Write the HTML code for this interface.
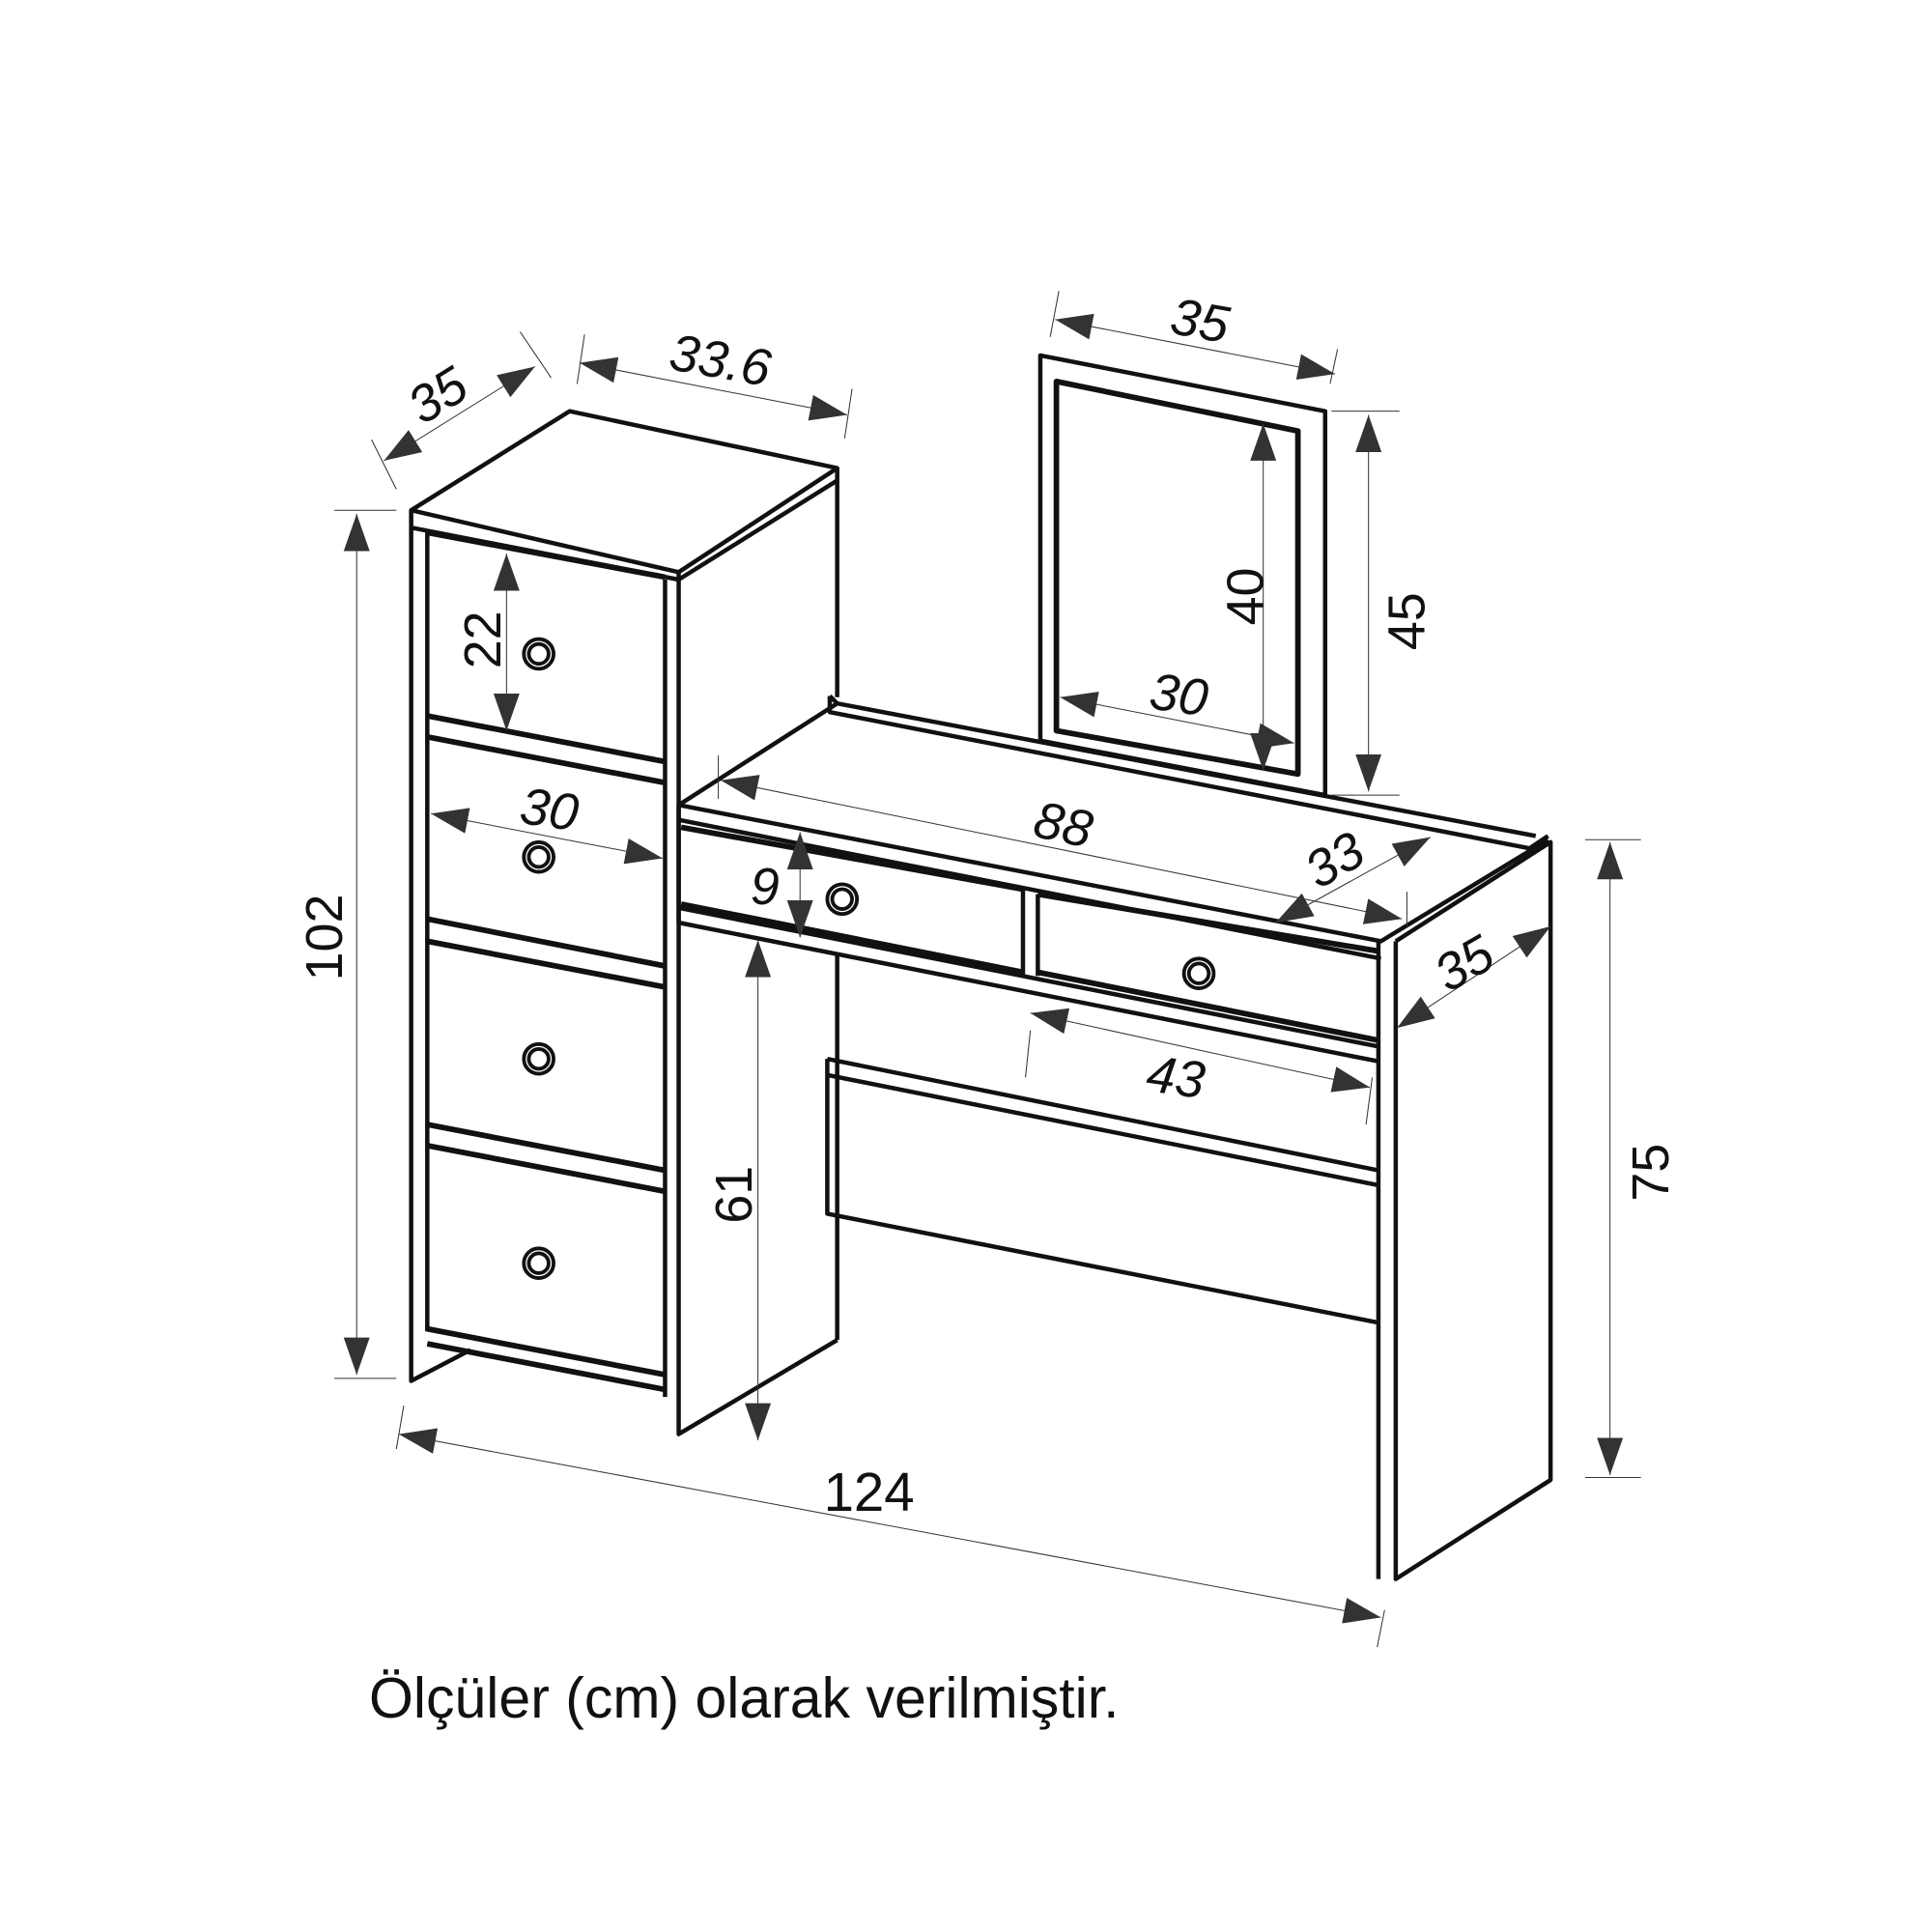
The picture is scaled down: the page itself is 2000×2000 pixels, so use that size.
<!DOCTYPE html>
<html><head><meta charset="utf-8"><style>
html,body{margin:0;padding:0;background:#fff}
svg{display:block}
text{font-family:"Liberation Sans",sans-serif;fill:#111}
</style></head><body>
<svg width="2000" height="2000" viewBox="0 0 1560 1560" xmlns="http://www.w3.org/2000/svg">
<defs>
<marker id="a" viewBox="0 0 10 10" refX="10" refY="5" markerWidth="30" markerHeight="30" markerUnits="userSpaceOnUse" orient="auto-start-reverse">
<path d="M0,1.5 L10,5 L0,8.5 Z" fill="#333"/></marker>
</defs>
<g stroke="#111" stroke-width="3.5" fill="none" stroke-linejoin="round">
<path d="M332,412 L460,332 L676,378 L548,462 Z"/>
<path d="M332,426 L548,468"/>
<path d="M548,468 L676,388"/>
<path d="M332,412 L332,1115 L380,1090"/>
<path d="M345,430 L345,1075"/>
<path d="M537,468 L537,1128"/>
<path d="M548,462 L548,1158 L676,1082"/>
<path d="M676,378 L676,563"/>
<path d="M345,430 L537,466 M345,578 L537,615 M345,595 L537,632 M345,742 L537,780 M345,760 L537,797 M345,908 L537,945 M345,925 L537,962 M345,1073 L537,1110 M345,1085 L537,1122" stroke-width="4.5"/>
</g>
<g stroke="#111" stroke-width="3" fill="none">
<circle cx="435" cy="528" r="12"/><circle cx="435" cy="528" r="8"/>
<circle cx="435" cy="692" r="12"/><circle cx="435" cy="692" r="8"/>
<circle cx="435" cy="855" r="12"/><circle cx="435" cy="855" r="8"/>
<circle cx="435" cy="1020" r="12"/><circle cx="435" cy="1020" r="8"/>
<circle cx="680" cy="726" r="12"/><circle cx="680" cy="726" r="8"/>
<circle cx="968" cy="786" r="12"/><circle cx="968" cy="786" r="8"/>
</g>
<g stroke="#111" stroke-width="3.5" fill="none" stroke-linejoin="round">
<path d="M548,650 L676,568 L1240,675"/>
<path d="M670,562 L676,568 M670,562 L670,575 L1235,685 L1250,675"/>
<path d="M548,650 L1115,760 L1250,678"/>
<path d="M548,662 L1115,774"/>
<path d="M548,650 L548,745"/>
<path d="M550,668 L826,718 M550,730 L826,785" stroke-width="4.5"/>
<path d="M838,722 L1113,768 M838,785 L1113,840" stroke-width="4.5"/>
<path d="M826,718 L826,788 M838,722 L838,788"/>
<path d="M548,733 L1113,845 M548,745 L1113,857"/>
<path d="M676,770 L676,1082"/>
<path d="M668,855 L1113,945 M668,868 L1113,957 M668,855 L668,980 L1113,1068"/>
<path d="M1113,760 L1113,1275 M1127,760 L1127,1275 L1252,1195 L1252,680 L1127,760"/>
<path d="M840,287 L1070,332 L1070,642 L840,598 Z"/>
<path d="M853,308 L1048,348 L1048,625 L853,590 Z" stroke-width="4.5"/>
</g>
<g stroke="#333" stroke-width="0.8" fill="none">
<path d="M270,412 L320,412 M270,1113 L320,1113"/>
<path d="M288,415 L288,1110" marker-start="url(#a)" marker-end="url(#a)"/>
<path d="M409,447 L409,590" marker-start="url(#a)" marker-end="url(#a)"/>
<path d="M348,657 L535,693" marker-start="url(#a)" marker-end="url(#a)"/>
<path d="M300,355 L320,395 M420,268 L445,305"/>
<path d="M310,372 L432,296" marker-start="url(#a)" marker-end="url(#a)"/>
<path d="M472,270 L466,310 M688,314 L682,354"/>
<path d="M468,293 L684,335" marker-start="url(#a)" marker-end="url(#a)"/>
<path d="M855,235 L848,272 M1080,282 L1074,310"/>
<path d="M852,258 L1078,302" marker-start="url(#a)" marker-end="url(#a)"/>
<path d="M1075,332 L1130,332 M1075,642 L1130,642"/>
<path d="M1105,335 L1105,639" marker-start="url(#a)" marker-end="url(#a)"/>
<path d="M1020,342 L1020,622" marker-start="url(#a)" marker-end="url(#a)"/>
<path d="M856,563 L1045,600" marker-start="url(#a)" marker-end="url(#a)"/>
<path d="M580,610 L580,645"/>
<path d="M582,630 L1132,742" marker-start="url(#a)" marker-end="url(#a)"/>
<path d="M1136,720 L1136,748"/>
<path d="M1030,745 L1155,676" marker-start="url(#a)" marker-end="url(#a)"/>
<path d="M1128,830 L1252,748" marker-start="url(#a)" marker-end="url(#a)"/>
<path d="M646,672 L646,757" marker-start="url(#a)" marker-end="url(#a)"/>
<path d="M612,759 L612,1163" marker-start="url(#a)" marker-end="url(#a)"/>
<path d="M832,832 L828,870 M1108,870 L1103,908"/>
<path d="M832,818 L1106,878" marker-start="url(#a)" marker-end="url(#a)"/>
<path d="M1280,678 L1325,678 M1280,1193 L1325,1193"/>
<path d="M1300,680 L1300,1191" marker-start="url(#a)" marker-end="url(#a)"/>
<path d="M326,1135 L320,1170 M1118,1300 L1112,1330"/>
<path d="M322,1158 L1115,1306" marker-start="url(#a)" marker-end="url(#a)"/>
</g>
<g font-size="42" font-style="italic">
<text x="328" y="332" transform="rotate(-32 355 315)">35</text>
<text x="540" y="305" transform="rotate(10 580 295)">33.6</text>
<text x="945" y="273" transform="rotate(10 968 262)">35</text>
<text x="420" y="668" transform="rotate(8 445 655)">30</text>
<text x="928" y="575" transform="rotate(8 950 565)">30</text>
<text x="835" y="680" transform="rotate(12 858 667)">88</text>
<text x="1052" y="708" transform="rotate(-30 1078 690)">33</text>
<text x="1157" y="793" transform="rotate(-30 1180 775)">35</text>
<text x="926" y="884" transform="rotate(8 950 870)">43</text>
<text x="606" y="730">9</text>
</g>
<g font-size="42">
<text transform="translate(404,540) rotate(-90)">22</text>
<text transform="translate(276,792) rotate(-90)">102</text>
<text transform="translate(1020,505) rotate(-90)">40</text>
<text transform="translate(1150,525) rotate(-90)">45</text>
<text transform="translate(607,988) rotate(-90)">61</text>
<text transform="translate(1347,970) rotate(-90)">75</text>
<text x="665" y="1220" font-size="44">124</text>
<text x="298" y="1387" font-size="46">Ölçüler (cm) olarak verilmiştir.</text>
</g>
</svg>
</body></html>
